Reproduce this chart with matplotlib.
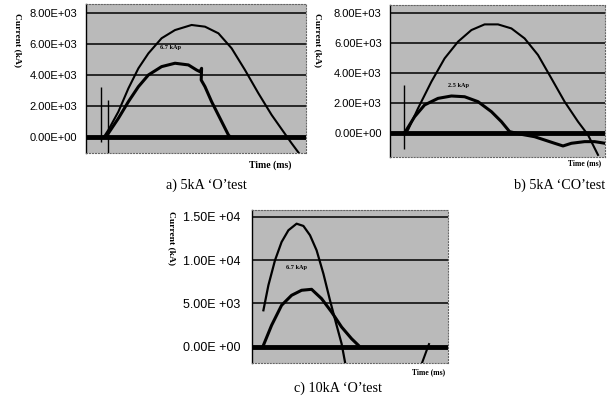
import matplotlib.pyplot as plt

# a) 5kA 'O' test  (time in ms, current in A)
a_t_big = [0.9, 1.12, 1.62, 2.12, 2.62, 3.12, 3.78, 4.45, 5.28, 5.95, 6.62, 7.28, 7.95, 8.62,
           9.28, 9.87, 10.28, 10.75]
a_i_big = [0, 434, 1620, 3130, 4430, 5400, 6380, 6910, 7240, 7130, 6700, 5730, 4320, 2810,
           1410, 324, -430, -1250]
a_t_small = [1.0, 1.12, 1.62, 2.12, 2.62, 3.12, 3.78, 4.45, 5.12, 5.53, 5.7, 5.78, 5.76, 5.95,
             6.28, 6.7, 7.12, 7.2]
a_i_small = [0, 220, 1190, 2270, 3240, 4000, 4540, 4760, 4650, 4320, 4210, 4430, 3670, 3240,
             2270, 1190, 110, 0]
a_spike_t = [0.75, 1.08]
a_spike_lo = [-324, -1060]
a_spike_hi = [3240, 2380]

# b) 5kA 'CO' test
b_t_big = [0.75, 0.9, 1.4, 2.07, 2.73, 3.4, 4.07, 4.73, 5.4, 6.07, 6.73, 7.4, 8.07, 8.73,
           9.4, 9.9, 10.4]
b_i_big = [0, 180, 1630, 3420, 4980, 6100, 6880, 7260, 7260, 6990, 6320, 5210, 3640, 2080,
           740, -150, -1490]
b_t_small = [0.72, 0.82, 1.23, 1.73, 2.4, 3.07, 3.73, 4.4, 5.07, 5.57, 5.98, 6.57, 7.23, 7.73,
             8.23, 8.65, 9.07, 9.73, 10.23, 10.75]
b_i_small = [0, 180, 1070, 1860, 2300, 2460, 2410, 2080, 1410, 740, 70, -110, -270, -490,
             -710, -890, -710, -600, -600, -710]
b_spike_t = [0.7]
b_spike_lo = [-1100]
b_spike_hi = [3200]

# c) 10kA 'O' test
c_t_big = [0.57, 0.82, 1.15, 1.48, 1.82, 2.23, 2.57, 2.9, 3.23, 3.57, 3.9, 4.23, 4.48, 4.65]
c_i_big = [4200, 7090, 9970, 12080, 13430, 14190, 13930, 12860, 11120, 8420, 5350, 2470, 350,
           -1770]
c_t_small = [0.57, 0.98, 1.48, 1.98, 2.48, 2.98, 3.48, 3.98, 4.48, 4.98, 5.32]
c_i_small = [160, 2470, 4780, 5930, 6510, 6620, 5540, 4000, 2270, 920, 160]
c_t_tail = [8.5, 8.8, 8.85]
c_i_tail = [-1880, 0, 300]

a_ticks = [0, 2000, 4000, 6000, 8000]
a_labels = ["0.00E+00", "2.00E+03", "4.00E+03", "6.00E+03", "8.00E+03"]
c_ticks = [0, 5000, 10000, 15000]
c_labels = ["0.00E +00", "5.00E +03", "1.00E +04", "1.50E +04"]

bg = "#bababa"


def style(ax, ticks, labels, ylim, xlim, pad, fs):
    ax.set_facecolor(bg)
    ax.set_xlim(*xlim)
    ax.set_ylim(*ylim)
    ax.set_xticks([])
    ax.set_yticks(ticks)
    ax.set_yticklabels(labels, fontsize=fs, family="Liberation Sans")
    ax.tick_params(axis="y", length=0, pad=pad)
    for v in ticks:
        ax.axhline(v, color="black", lw=3.5 if v == 0 else 1.1, zorder=1)
    for s in ["top", "right", "bottom"]:
        ax.spines[s].set_color("#666666")
        ax.spines[s].set_linewidth(0.8)
        ax.spines[s].set_linestyle(":")
    ax.spines["left"].set_linewidth(1.0)


fig = plt.figure(figsize=(6.11, 3.98), dpi=100)

ax1 = fig.add_axes([86 / 611, 1 - 153 / 398, 220 / 611, 149 / 398])
style(ax1, a_ticks, a_labels, (-1060, 8600), (0, 11.0), 6.5, 8)
ax1.plot(a_t_big, a_i_big, color="black", lw=1.5, zorder=3)
ax1.plot(a_t_small, a_i_small, color="black", lw=2.2, zorder=3)
ax1.vlines(a_spike_t, a_spike_lo, a_spike_hi, color="black", lw=1.0, zorder=3)
ax1.text(4.25, 5810, "6.7 kAp", fontsize=4.5, fontweight="bold", ha="center", va="center",
         family="Liberation Serif", zorder=4)

ax2 = fig.add_axes([390 / 611, 1 - 157 / 398, 215 / 611, 152 / 398])
style(ax2, a_ticks, a_labels, (-1630, 8560), (0, 10.75), 6, 8)
ax2.plot(b_t_big, b_i_big, color="black", lw=1.5, zorder=3)
ax2.plot(b_t_small, b_i_small, color="black", lw=2.2, zorder=3)
ax2.vlines(b_spike_t, b_spike_lo, b_spike_hi, color="black", lw=1.0, zorder=3)
ax2.text(3.4, 3130, "2.5 kAp", fontsize=4.5, fontweight="bold", ha="center", va="center",
         family="Liberation Serif", zorder=4)

ax3 = fig.add_axes([252 / 611, 1 - 363 / 398, 196 / 611, 153 / 398])
style(ax3, c_ticks, c_labels, (-1880, 15770), (0, 9.8), 8.5, 9)
ax3.plot(c_t_big, c_i_big, color="black", lw=1.6, zorder=3)
ax3.plot(c_t_small, c_i_small, color="black", lw=2.2, zorder=3)
ax3.plot(c_t_tail, c_i_tail, color="black", lw=1.5, zorder=3)
ax3.text(2.25, 9080, "6.7 kAp", fontsize=4.5, fontweight="bold", ha="center", va="center",
         family="Liberation Serif", zorder=4)

serif = "Liberation Serif"
# axis labels
fig.text(18 / 611, 1 - 40 / 398, "Current (kA)", rotation=270, fontsize=6.8, fontweight="bold",
         family=serif, ha="center", va="center")
fig.text(318 / 611, 1 - 40 / 398, "Current (kA)", rotation=270, fontsize=6.8, fontweight="bold",
         family=serif, ha="center", va="center")
fig.text(172 / 611, 1 - 238 / 398, "Current (kA)", rotation=270, fontsize=6.8, fontweight="bold",
         family=serif, ha="center", va="center")
fig.text(270 / 611, 1 - 165 / 398, "Time (ms)", fontsize=7, fontweight="bold",
         family=serif, ha="center", va="center")
fig.text(585 / 611, 1 - 163 / 398, "Time (ms)", fontsize=5.5, fontweight="bold",
         family=serif, ha="center", va="center")
fig.text(429 / 611, 1 - 372 / 398, "Time (ms)", fontsize=5.5, fontweight="bold",
         family=serif, ha="center", va="center")

# captions
fig.text(206 / 611, 1 - 185 / 398, "a) 5kA \u2018O\u2019test", fontsize=10.2, family=serif,
         ha="center", va="center")
fig.text(560 / 611, 1 - 185 / 398, "b) 5kA \u2018CO\u2019test", fontsize=10.2, family=serif,
         ha="center", va="center")
fig.text(338 / 611, 1 - 388 / 398, "c) 10kA \u2018O\u2019test", fontsize=10.2, family=serif,
         ha="center", va="center")

fig.savefig("out.png", dpi=100)
